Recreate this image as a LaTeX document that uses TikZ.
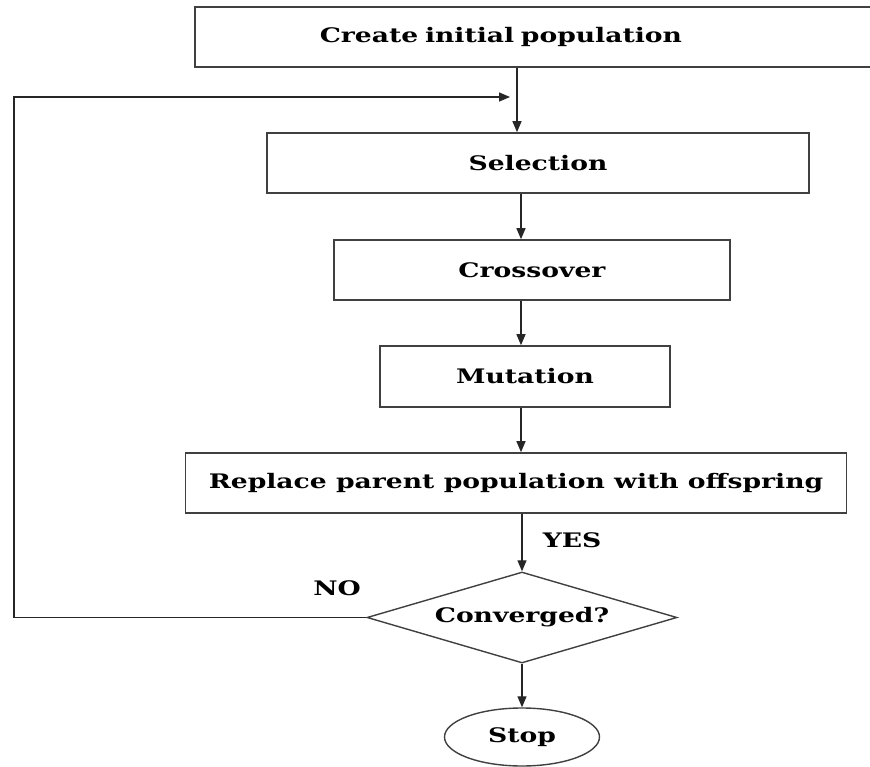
\documentclass[tikz,border=0pt]{standalone}
\usepackage{fontspec}
\setmainfont{DejaVu Serif}[FakeStretch=1.33]
\usepackage{tikz}
\usetikzlibrary{arrows.meta, shapes.geometric, positioning}

\tikzset{
  stepbox/.style={draw=black!75, line width=1.6pt, rectangle, minimum height=60pt,
    inner sep=0pt, font=\fontsize{20}{24}\selectfont\bfseries},
  decision/.style={draw=black!75, line width=1.4pt, diamond, shape aspect=3.4,
    inner sep=0pt, font=\fontsize{20}{24}\selectfont\bfseries},
  terminal/.style={draw=black!75, line width=1.4pt, ellipse, inner sep=0pt,
    font=\fontsize{20}{24}\selectfont\bfseries},
  flow/.style={draw=black!85, line width=1.3pt, -{Triangle[length=11pt,width=9pt]}},
  answer/.style={font=\fontsize{20}{24}\selectfont\bfseries},
}

\begin{document}
\begin{tikzpicture}[x=1pt,y=-1pt]
\useasboundingbox (0,0) rectangle (870,767);
\clip (0,0) rectangle (870,767);

% boxes of the loop
\node[stepbox, anchor=west, inner xsep=125pt, text width=560pt, align=left] (init) at (194,37) {Create initial population};
\node[stepbox, minimum width=542pt] (sel) at (538,163) {Selection};
\node[stepbox, minimum width=396pt] (cross) at (532,270) {Crossover};
\node[stepbox, minimum width=290pt, minimum height=61pt] (mut) at (525,376.5) {Mutation};
\node[stepbox, minimum width=661pt] (repl) at (516,483) {Replace parent population with offspring};
\node[decision, minimum width=310pt, minimum height=91pt] (conv) at (522,617.5) {Converged?};
\node[terminal, minimum width=155pt, minimum height=58pt] (stop) at (522,737) {Stop};

\coordinate (merge) at (517,97);
\coordinate (spine) at (521,0);
\coordinate (back) at (14,97);

% arrows down
\draw[flow] (init.south -| merge) -- (sel.north -| merge);
\draw[flow] (sel.south -| spine) -- (cross.north -| spine);
\draw[flow] (cross.south -| spine) -- (mut.north -| spine);
\draw[flow] (mut.south -| spine) -- (repl.north -| spine);
\draw[flow] (repl.south -| conv) -- (conv.north);
\draw[flow] (conv.south) -- (stop.north);

% back to selection
\draw[flow] (conv.west) -| (back) -- ([xshift=-7pt]merge);

\node[answer] (yes) at (572,540) {YES};
\node[answer] (no) at (337,588) {NO};
\end{tikzpicture}
\end{document}
